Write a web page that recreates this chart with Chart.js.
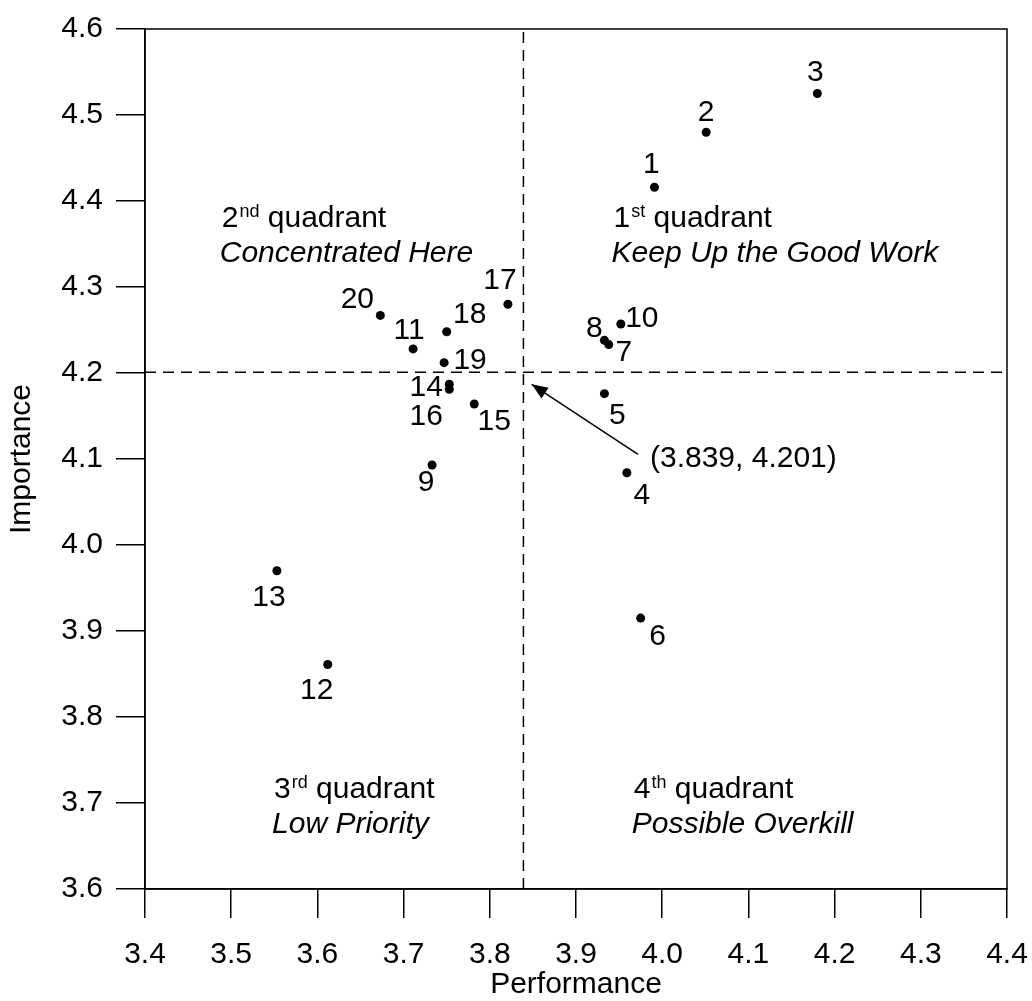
<!DOCTYPE html>
<html>
<head>
<meta charset="utf-8">
<script src="https://cdn.jsdelivr.net/npm/chart.js@4.4.1/dist/chart.umd.min.js"></script>
<style>
  html, body { margin: 0; padding: 0; background: #fff; }
  #wrap { width: 1032px; height: 1001px; position: relative; }
</style>
</head>
<body>
<div id="wrap"><canvas id="ipa"></canvas></div>
<script>
// Attribute numbers and their mean scores
const itemLabels = ['1','2','3','4','5','6','7','8','9','10','11','12','13','14','15','16','17','18','19','20'];
const performance = [3.991, 4.051, 4.180, 3.959, 3.933, 3.975, 3.938, 3.933, 3.733, 3.952,
                     3.711, 3.612, 3.553, 3.753, 3.782, 3.753, 3.821, 3.750, 3.747, 3.673];
const importance  = [4.416, 4.480, 4.525, 4.084, 4.176, 3.915, 4.233, 4.238, 4.093, 4.257,
                     4.228, 3.861, 3.970, 4.187, 4.164, 4.181, 4.280, 4.248, 4.212, 4.267];

// Grand means that split the plane into quadrants
const meanPerformance = 3.839;
const meanImportance = 4.201;

// Axis ranges and tick values
const xTicks = [3.4, 3.5, 3.6, 3.7, 3.8, 3.9, 4.0, 4.1, 4.2, 4.3, 4.4];
const yTicks = [3.6, 3.7, 3.8, 3.9, 4.0, 4.1, 4.2, 4.3, 4.4, 4.5, 4.6];

// Pointer from the mean label to the crossing point: [tail, tip]
const arrowX = [3.972, 3.8486];
const arrowY = [4.1055, 4.1869];

// Quadrant captions: [number, suffix, description]
const quadrants = [
  ['1', 'st', 'Keep Up the Good Work'],
  ['2', 'nd', 'Concentrated Here'],
  ['3', 'rd', 'Low Priority'],
  ['4', 'th', 'Possible Overkill']
];

const FONT = '"Liberation Sans", Arial, Helvetica, sans-serif';
const FS = 30;

const points = performance.map((x, i) => ({ x: x, y: importance[i] }));

// label offsets in pixels around each dot
const labelOffsets = [
  [-3,-23], [0,-19], [-2,-21], [15,23], [13,22], [17,19], [15,8], [-10,-12], [-6,18], [21,-5],
  [-4,-18], [-11,26], [-8,27], [-23,4], [20,18], [-23,27], [-8,-23], [23,-17], [26,-2], [-23,-16]
];
// caption anchors in data units (left edge, first-line centre)
const captionAnchors = [
  [3.9435, 4.379], [3.489, 4.379], [3.5497, 3.715], [3.967, 3.715]
];

const decor = {
  id: 'decor',
  afterDatasetsDraw(chart) {
    const { ctx, chartArea: a, scales: { x, y } } = chart;
    ctx.save();
    // frame
    ctx.strokeStyle = '#000';
    ctx.lineWidth = 1.5;
    ctx.strokeRect(a.left, a.top, a.right - a.left, a.bottom - a.top);

    // point numbers
    ctx.fillStyle = '#000';
    ctx.font = FS + 'px ' + FONT;
    ctx.textAlign = 'center';
    ctx.textBaseline = 'middle';
    const meta = chart.getDatasetMeta(0);
    meta.data.forEach((el, i) => {
      const o = labelOffsets[i];
      ctx.fillText(itemLabels[i], el.x + o[0], el.y + o[1]);
    });

    // arrowhead at the crossing point
    const am = chart.getDatasetMeta(3).data;
    const t = am[0], h = am[1];
    const ang = Math.atan2(h.y - t.y, h.x - t.x);
    const L = 16, W = 6.5;
    ctx.beginPath();
    ctx.moveTo(h.x, h.y);
    ctx.lineTo(h.x - L * Math.cos(ang) + W * Math.sin(ang), h.y - L * Math.sin(ang) - W * Math.cos(ang));
    ctx.lineTo(h.x - L * Math.cos(ang) - W * Math.sin(ang), h.y - L * Math.sin(ang) + W * Math.cos(ang));
    ctx.closePath();
    ctx.fill();

    // mean label
    ctx.textAlign = 'left';
    ctx.font = FS + 'px ' + FONT;
    ctx.fillText('(' + meanPerformance.toFixed(3) + ', ' + meanImportance.toFixed(3) + ')',
      x.getPixelForValue(3.9858), y.getPixelForValue(4.1008));

    // quadrant captions
    quadrants.forEach((q, i) => {
      const px = x.getPixelForValue(captionAnchors[i][0]);
      const py = y.getPixelForValue(captionAnchors[i][1]);
      ctx.font = FS + 'px ' + FONT;
      ctx.textBaseline = 'middle';
      ctx.fillText(q[0], px, py);
      let cx = px + ctx.measureText(q[0]).width + 1;
      ctx.font = '18px ' + FONT;
      ctx.fillText(q[1], cx, py - 7);
      cx += ctx.measureText(q[1]).width;
      ctx.font = FS + 'px ' + FONT;
      ctx.fillText(' quadrant', cx, py);
      ctx.font = 'italic ' + FS + 'px ' + FONT;
      ctx.fillText(q[2], px - 2, py + 35);
    });
    ctx.restore();
  }
};

new Chart(document.getElementById('ipa'), {
  type: 'scatter',
  data: {
    datasets: [
      {
        data: points,
        pointRadius: 4.5,
        pointHoverRadius: 4.5,
        pointBackgroundColor: '#000',
        pointBorderWidth: 0,
        showLine: false
      },
      {
        data: [{ x: meanPerformance, y: yTicks[0] }, { x: meanPerformance, y: yTicks[yTicks.length - 1] }],
        showLine: true, pointRadius: 0, borderColor: '#000', borderWidth: 1.5, borderDash: [11, 7]
      },
      {
        data: [{ x: xTicks[0], y: meanImportance }, { x: xTicks[xTicks.length - 1], y: meanImportance }],
        showLine: true, pointRadius: 0, borderColor: '#000', borderWidth: 1.5, borderDash: [11, 7]
      },
      {
        data: arrowX.map((v, i) => ({ x: v, y: arrowY[i] })),
        showLine: true, pointRadius: 0, borderColor: '#000', borderWidth: 1.5
      }
    ]
  },
  options: {
    responsive: true,
    maintainAspectRatio: false,
    animation: false,
    events: [],
    layout: { padding: { top: 29, right: 25, left: 0, bottom: 0 } },
    plugins: { legend: { display: false }, tooltip: { enabled: false } },
    scales: {
      x: {
        type: 'linear',
        min: xTicks[0],
        max: xTicks[xTicks.length - 1],
        afterBuildTicks: s => { s.ticks = xTicks.map(v => ({ value: v })); },
        afterFit: s => { s.height = 112; s.paddingRight = 0; s.paddingLeft = 0; },
        ticks: {
          color: '#000', padding: 19, maxRotation: 0, autoSkip: false,
          font: { family: FONT, size: FS },
          callback: v => Number(v).toFixed(1)
        },
        grid: { drawOnChartArea: false, drawTicks: true, tickLength: 29, color: '#000', lineWidth: 1.5 },
        border: { display: true, color: '#000', width: 1.5 },
        title: {
          display: true, text: 'Performance', color: '#000',
          font: { family: FONT, size: FS, lineHeight: 1 }, padding: { top: 0, bottom: 1 }
        }
      },
      y: {
        type: 'linear',
        min: yTicks[0],
        max: yTicks[yTicks.length - 1],
        afterBuildTicks: s => { s.ticks = yTicks.map(v => ({ value: v })); },
        afterFit: s => { s.width = 145; s.paddingTop = 0; s.paddingBottom = 0; },
        ticks: {
          color: '#000', padding: 13, autoSkip: false,
          font: { family: FONT, size: FS },
          callback: v => Number(v).toFixed(1)
        },
        grid: { drawOnChartArea: false, drawTicks: true, tickLength: 29, color: '#000', lineWidth: 1.5 },
        border: { display: true, color: '#000', width: 1.5 },
        title: {
          display: true, text: 'Importance', color: '#000',
          font: { family: FONT, size: FS, lineHeight: 1 }, padding: { top: 7, bottom: 0 }
        }
      }
    }
  },
  plugins: [decor]
});
</script>
</body>
</html>
